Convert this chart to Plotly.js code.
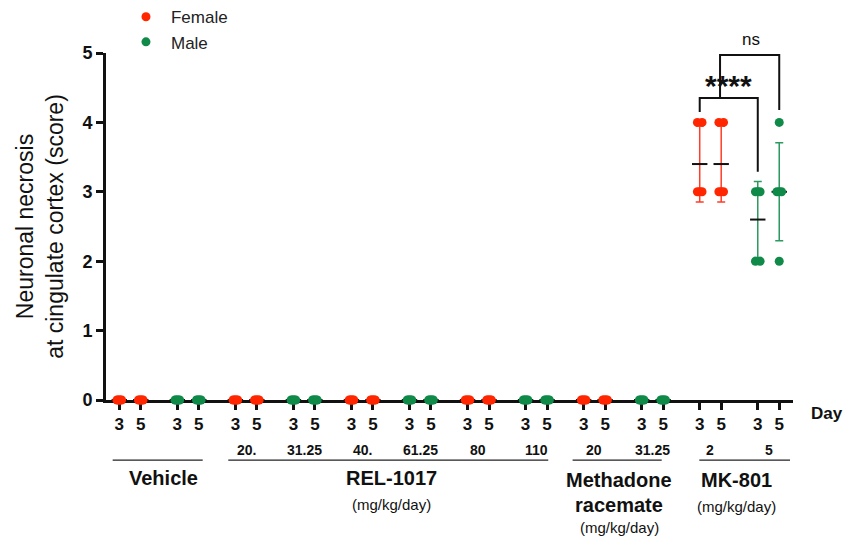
<!DOCTYPE html>
<html>
<head>
<meta charset="utf-8">
<script src="https://cdn.plot.ly/plotly-3.0.1.min.js"></script>
<style>html,body{margin:0;padding:0;background:#fff;}#chart{width:845px;height:536px;}</style>
</head>
<body>
<div id="chart"></div>
<script>
// ---------------- DATA ----------------
const groupSex   = ['Female','Male','Female','Male','Female','Male','Female','Male','Female','Male','Female','Male'];
const groupDose  = ['', '', '20.', '31.25', '40.', '61.25', '80', '110', '20', '31.25', '2', '5'];
const days       = ['3', '5'];
// scores for each group (one array of animal scores per group), day 3 and day 5
const scoresDay3 = [
  [0,0,0,0,0],[0,0,0,0,0],[0,0,0,0,0],[0,0,0,0,0],[0,0,0,0,0],[0,0,0,0,0],
  [0,0,0,0,0],[0,0,0,0,0],[0,0,0,0,0],[0,0,0,0,0],[4,4,3,3,3],[3,3,3,2,2]
];
const scoresDay5 = [
  [0,0,0,0,0],[0,0,0,0,0],[0,0,0,0,0],[0,0,0,0,0],[0,0,0,0,0],[0,0,0,0,0],
  [0,0,0,0,0],[0,0,0,0,0],[0,0,0,0,0],[0,0,0,0,0],[4,4,3,3,3],[4,3,3,3,2]
];
const sexColors = {Female:'#ff2600', Male:'#0f8a48'};
const errColors = {Female:'#ff3d28', Male:'#2b9a5e'};

// ---------------- LAYOUT HELPERS ----------------
const PAIR = 0.37;           // spacing between day 3 and day 5 columns
const SPREAD = 0.08;         // horizontal spread of tied points
const FONT = 'Liberation Sans, Arial, Helvetica, sans-serif';
function xPos(g, d){ return g + PAIR*d; }
function mean(a){ return a.reduce((s,v)=>s+v,0)/a.length; }
function sd(a){ const m=mean(a); return Math.sqrt(a.reduce((s,v)=>s+(v-m)*(v-m),0)/(a.length-1)); }
function spreadX(center, vals){
  const counts = {}, seen = {};
  vals.forEach(v=>counts[v]=(counts[v]||0)+1);
  return vals.map(v=>{
    const k=counts[v], j=(seen[v]=(seen[v]||0)+1)-1;
    return k>1 ? center - SPREAD/2 + SPREAD*j/(k-1) : center;
  });
}

const dots = {Female:{x:[],y:[]}, Male:{x:[],y:[]}};
const errs = {Female:{x:[],y:[],e:[]}, Male:{x:[],y:[],e:[]}};
const tickvals=[], ticktext=[];
groupSex.forEach((sex,g)=>{
  [scoresDay3[g], scoresDay5[g]].forEach((vals,d)=>{
    const cx = xPos(g,d);
    tickvals.push(cx); ticktext.push(days[d]);
    dots[sex].x.push(...spreadX(cx, vals)); dots[sex].y.push(...vals);
    errs[sex].x.push(cx); errs[sex].y.push(mean(vals)); errs[sex].e.push(sd(vals));
  });
});

const traces = [];
['Female','Male'].forEach(sex=>{
  traces.push({
    type:'scatter', mode:'markers', x:errs[sex].x, y:errs[sex].y, showlegend:false, hoverinfo:'skip',
    cliponaxis:false,
    marker:{symbol:'line-ew', size:11, color:'black', line:{width:2, color:'#111'}},
    error_y:{type:'data', array:errs[sex].e, visible:true, color:errColors[sex], thickness:1.5, width:4}
  });
});
['Female','Male'].forEach(sex=>{
  traces.push({
    type:'scatter', mode:'markers', name:sex, x:dots[sex].x, y:dots[sex].y, cliponaxis:false,
    marker:{size:9, color:sexColors[sex], line:{width:0}}
  });
});

// ---------------- ANNOTATIONS & SHAPES ----------------
const ann = [];
const shapes = [];
groupDose.forEach((dose,g)=>{
  if(dose) ann.push({x:xPos(g,0.5), y:-0.144, xref:'x', yref:'paper', text:dose, showarrow:false,
    font:{size:14, weight:'bold', color:'#111', family:FONT}, xanchor:'center', yanchor:'middle'});
});
function uline(x0,x1){ shapes.push({type:'line', xref:'x', yref:'paper', x0:x0, x1:x1, y0:-0.173, y1:-0.173, line:{color:'#222', width:1.3}}); }
uline(-0.114, 1.437); uline(1.878, 7.39); uline(7.81, 9.345); uline(9.993, 11.556);
function label(x,y,text,size,bold){ ann.push({x:x, y:y, xref:'x', yref:'paper', text:text, showarrow:false, xanchor:'center', yanchor:'middle',
  font:{size:size, weight:bold?'bold':'normal', color:'#111', family:FONT}}); }
label(0.753, -0.225, 'Vehicle', 20, true);
label(4.69, -0.225, 'REL-1017', 20, true);
label(4.69, -0.300, '(mg/kg/day)', 15, false);
label(8.61, -0.2305, 'Methadone', 20, true);
label(8.61, -0.3026, 'racemate', 20, true);
label(8.61, -0.366, '(mg/kg/day)', 15, false);
label(10.64, -0.2305, 'MK-801', 20, true);
label(10.64, -0.308, '(mg/kg/day)', 15, false);
ann.push({x:1.049, y:-0.04, xref:'paper', yref:'paper', text:'Day', showarrow:false, xanchor:'center', yanchor:'middle',
  font:{size:17, weight:'bold', color:'#111', family:FONT}});
// significance brackets
shapes.push({type:'path', xref:'x', yref:'y', path:'M 10 4.15 L 10 4.35 L 11 4.35 L 11 3.29', line:{color:'#111', width:2}});
shapes.push({type:'path', xref:'x', yref:'y', path:'M 10.35 4.35 L 10.35 4.97 L 11.37 4.97 L 11.37 4.18', line:{color:'#111', width:2}});
ann.push({x:10.5, y:4.53, xref:'x', yref:'y', text:'****', showarrow:false, xanchor:'center', yanchor:'middle',
  font:{size:30, weight:'bold', color:'#111', family:FONT}});
ann.push({x:10.88, y:1.04, xref:'x', yref:'paper', text:'ns', showarrow:false, xanchor:'center', yanchor:'middle',
  font:{size:17, color:'#111', family:FONT}});

const layout = {
  width:845, height:536,
  margin:{l:106, r:52, t:53, b:136, autoexpand:false},
  paper_bgcolor:'#fff', plot_bgcolor:'#fff',
  font:{family:FONT, color:'#111'},
  showlegend:true,
  legend:{x:0.0218, y:1.155, xanchor:'left', yanchor:'top', font:{size:17, color:'#222', family:FONT},
    itemwidth:40, bgcolor:'rgba(0,0,0,0)', tracegroupgap:0},
  xaxis:{range:[-0.229, 11.607], tickmode:'array', tickvals:tickvals, ticktext:ticktext,
    showline:true, linewidth:3, linecolor:'#111', ticks:'outside', ticklen:7, tickwidth:3, tickcolor:'#111',
    tickfont:{size:17, weight:'bold', color:'#111', family:FONT}, showgrid:false, zeroline:false, layer:'below traces', fixedrange:true},
  yaxis:{range:[0,5], tickmode:'linear', tick0:0, dtick:1,
    showline:true, linewidth:3, linecolor:'#111', ticks:'outside', ticklen:7, tickwidth:3, tickcolor:'#111',
    tickfont:{size:18, weight:'bold', color:'#111', family:FONT}, showgrid:false, zeroline:false, layer:'below traces', fixedrange:true,
    title:{text:'Neuronal necrosis<br>at cingulate cortex (score)', font:{size:23, color:'#111', family:FONT}, standoff:13}},
  annotations:ann, shapes:shapes
};
Plotly.newPlot('chart', traces, layout, {displayModeBar:false, staticPlot:true});
</script>
</body>
</html>
